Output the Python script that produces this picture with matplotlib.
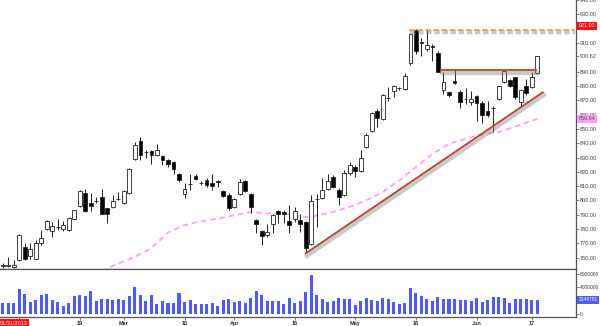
import matplotlib
matplotlib.use("Agg")
import matplotlib.pyplot as plt
import matplotlib.patheffects as pe
import numpy as np

plt.rcParams["font.family"] = ["Liberation Sans", "DejaVu Sans"]

# Daily OHLC (index 0 = 29 Jan 2013, last = 18 Jun 2013)
opens = [754, 754.5, 753.5, 758.5, 767.7, 761.5, 759.2, 770.1, 780, 778.9,
         781.3, 780, 779.3, 787.4, 796, 805.2, 797.9, 799.7, 802.5, 794.4,
         795.1, 800.9, 797.9, 805.2, 829.2, 841.2, 833.7, 834.8, 832.1, 831.2,
         828, 826.8, 818.7, 804.8, 811.5, 816.9, 812.2, 814.5, 812.2, 813.4,
         806.4, 803.6, 795.1, 804.8, 813.4, 804.4, 786.3, 778.9, 775.9, 783.3,
         792.7, 791.8, 785.8, 787, 786.7, 785.1, 769.4, 800.7, 801.4, 808.3,
         816.4, 807.6, 803.7, 819.2, 823.4, 820.4, 837.3, 848.2, 862.8, 857,
         871.5, 876.2, 878.4, 877.9, 895.7, 918.9, 910.4, 905.7, 907.6, 902.9,
         877.1, 875.5, 883.6, 875.5, 870.7, 868.6, 873.2, 867.9, 862.8, 864.7,
         870.9, 882.9, 884.1, 886, 869, 879.9, 879, 888.7]
highs = [756.5, 760.8, 758.5, 776.5, 770.5, 770.5, 772.4, 779.3, 786.3, 785.1,
         787.4, 785.6, 788.6, 793.6, 807.5, 808.3, 805.2, 802.5, 808.3, 795,
         803.6, 805.9, 807, 822.5, 840.7, 844.2, 835, 835.5, 839.6, 832,
         828.8, 827.5, 819.2, 812.3, 818.7, 818.2, 813.5, 815.5, 818.7, 814.1,
         807, 805, 801.5, 814.8, 814.5, 805.5, 786.8, 779.5, 783.5, 790.9,
         793.6, 793.2, 796.7, 795.6, 790.9, 786, 804.1, 804.4, 816, 818.2,
         817.5, 808.5, 821.1, 826.8, 824.5, 835, 846.8, 861.6, 864, 874.4,
         879.5, 880.8, 879.5, 888.7, 917.3, 920, 913.8, 919.6, 909.6, 904.5,
         889.4, 876.7, 891.7, 877.1, 878.3, 876.7, 874, 869.7, 869.7, 866.3,
         880.2, 890.6, 884.8, 886.5, 877.5, 884.8, 889.4, 901]
lows = [753, 753.5, 753, 758, 758.5, 759, 758.8, 768.9, 779.3, 774.2,
        779.3, 778.9, 778.5, 786.8, 795.5, 792, 792.7, 798, 790.5, 784.4,
        794.4, 800.2, 797.5, 804.8, 828.5, 828.5, 830, 825.2, 831.4, 824.5,
        823.4, 818.2, 813, 801.8, 807.1, 814.1, 811, 809.5, 807.1, 809.5,
        802.5, 793.7, 794.5, 804, 806, 791.6, 777, 768.9, 774.7, 777,
        784, 784, 777, 785.1, 778.2, 763.1, 768.9, 781.6, 800.7, 807.6,
        808.5, 796.7, 803, 817.5, 816.4, 819.9, 836.5, 847.7, 851.2, 856.3,
        869.7, 872, 877, 877.2, 894.5, 902.2, 901, 904.5, 897.5, 889.4,
        874.4, 872, 881.3, 864.6, 867.4, 867, 855.8, 854.4, 858.1, 847.7,
        870.2, 881.8, 879.5, 870.9, 865.1, 873.9, 878.5, 888.3]
closes = [755, 754.8, 755.2, 775.8, 759.2, 766.1, 770.1, 774, 785.6, 782.3,
          781.6, 782.8, 788.1, 793.2, 806.6, 792.7, 796, 799.5, 790.9, 790.4,
          799.7, 801.1, 806.4, 821.7, 838.9, 831.5, 833.6, 832.1, 835, 828,
          825.7, 821.7, 814.6, 807.8, 811.6, 815.3, 812, 810.6, 810.2, 813.2,
          803.2, 794.4, 800.9, 812.9, 806.7, 795.6, 783.3, 775.4, 777.7, 789.8,
          790.9, 790.4, 782.8, 792.7, 783.3, 766.6, 799.7, 800.9, 807.6, 813.4,
          809.5, 802.5, 819.2, 824.5, 820.6, 829.6, 845.9, 861.2, 857.7, 873.7,
          871.6, 879.9, 878.3, 887.1, 916.1, 904.5, 910.2, 908.7, 907.5, 889.9,
          882.9, 873.7, 882, 868.6, 870.6, 870.9, 867.9, 859.8, 860, 864.6,
          879.9, 890.1, 879.9, 872, 877.1, 875.1, 886.2, 900.62]
# volume in millions of shares
volumes = [1.73, 1.73, 1.63, 3.75, 3.01, 1.88, 2.12, 2.86, 2.96, 2.17,
           1.88, 1.19, 1.73, 2.72, 2.91, 2.77, 3.46, 2.02, 2.27, 2.22,
           2.07, 2.22, 2.17, 2.77, 4.00, 2.86, 2.02, 2.91, 1.58, 1.98,
           1.63, 1.68, 3.11, 1.83, 2.12, 1.48, 1.48, 1.48, 1.68, 1.19,
           2.17, 2.27, 1.83, 1.98, 1.73, 2.37, 3.46, 2.86, 2.02, 1.98,
           1.98, 1.58, 2.42, 1.73, 1.98, 3.36, 5.83, 2.86, 2.27, 1.78,
           2.02, 2.47, 2.27, 2.27, 1.43, 1.98, 2.47, 2.17, 1.98, 2.37,
           2.22, 1.88, 1.48, 1.63, 3.90, 3.16, 2.77, 2.27, 1.93, 2.52,
           2.27, 2.27, 2.27, 2.07, 2.07, 1.98, 2.47, 1.88, 2.07, 2.57,
           2.62, 2.37, 1.73, 2.27, 2.22, 2.32, 2.17, 2.14]

# 50-day moving average, read at a few points
ma_idx = [18, 19, 24, 27, 30, 33, 36, 39, 42, 45, 48, 51, 54, 56, 57, 60, 63,
          66, 69, 72, 75, 78, 81, 84, 87, 90, 93, 97]
ma_val = [750.5, 752.7, 760.7, 766.6, 777.7, 782.8, 785.4, 787.4, 789.7, 792.0,
          790.9, 790.9, 789.0, 788.1, 789.7, 792.0, 795.5, 800.2, 805.9, 814.1,
          823.3, 832.6, 839.6, 843.1, 846.1, 847.7, 851.6, 856.94]

# drawn trend lines
trend_idx = [55, 98]
trend_val = [763.1, 875.5]
neck_idx = [79.5, 96.7]
neck_val = [891.0, 891.0]
resist_idx = [73.8, 103.6]
resist_val = [919.3, 919.3]

price_ticks = [760, 770, 780, 790, 800, 810, 820, 830, 840, 850, 860, 870,
               880, 890, 900.62, 910, 920, 930, 940]
price_tick_labels = [f"{v:.2f}" if v != 920 else "" for v in price_ticks]
vol_ticks = [0, 2, 4, 6]
vol_tick_labels = ["0", "", "4000000", "6000000"]
date_ticks = [3, 14, 22, 33, 42, 53, 64, 75, 86, 96]
date_labels = ["", "19", "Mar", "18", "Apr", "16", "May", "16", "Jun", "17"]
cursor_idx = 2
cursor_date = "01/31/2013"
high_mark = 921.92
ma_last = 856.94
last_volume = 2144781

GREY = "#555555"


def right_box(ax, y, text, fc, tc, size=4):
    ax.annotate(text, xy=(1, y), xycoords=("axes fraction", "data"),
                xytext=(1.8, 0), textcoords="offset points", ha="left", va="center",
                fontsize=size, color=tc, annotation_clip=False,
                bbox=dict(boxstyle="square,pad=0.3", fc=fc, ec="none"))


fig = plt.figure(figsize=(6.0, 3.26), dpi=100)
ax = fig.add_axes([0, 1 - 268.5 / 326, 576 / 600, 268.5 / 326])
axv = fig.add_axes([0, 1 - 316.7 / 326, 576 / 600, (316.7 - 269) / 326])

x = np.arange(len(opens))
o = np.array(opens)
c = np.array(closes)
up = c >= o

# --- candles ---
ax.vlines(x, lows, highs, color="#222222", linewidth=0.7, zorder=2)
ax.bar(x, np.maximum(np.abs(c - o), 0.25), bottom=np.minimum(o, c), width=0.7,
       color=np.where(up, "white", "black"), edgecolor="#222222", linewidth=0.6, zorder=3)

# --- moving average ---
ax.plot(ma_idx, ma_val, color="#ff9cff", linewidth=1.3, dashes=(3, 2.2), zorder=1)

# --- trend lines with shadow ---
shadow = [pe.SimpleLineShadow(offset=(0.8, -1.8), shadow_color="#888888", alpha=0.45, linewidth=3.2),
          pe.Normal()]
ax.plot(trend_idx, trend_val, color="#b9472f", linewidth=1.3, path_effects=shadow, zorder=4)
ax.plot(neck_idx, neck_val, color="#b9472f", linewidth=1.3, path_effects=shadow, zorder=4)
ax.plot(resist_idx, resist_val, color="#f0a23a", linewidth=1.3, dashes=(3, 1.5),
        path_effects=shadow, zorder=4)

ax.set_xlim(-0.49, 104.05)
ax.set_ylim(752.5, 939.25)
ax.set_xticks([])
ax.yaxis.tick_right()
ax.set_yticks(price_ticks, price_tick_labels)
ax.tick_params(axis="y", length=2, width=0.5, pad=1, labelsize=4, color=GREY, labelcolor="#444444")
for s in ["top", "left"]:
    ax.spines[s].set_visible(False)
for s in ["right", "bottom"]:
    ax.spines[s].set_color(GREY)
    ax.spines[s].set_linewidth(0.9)

right_box(ax, high_mark, f"{high_mark:.2f}", "#ff1010", "white")
right_box(ax, ma_last, f"{ma_last:.2f}", "#ff9cff", "#555555")

# --- volume panel ---
axv.bar(x, volumes, width=0.55, color="#4a5cff", zorder=2)
axv.set_xlim(-0.49, 104.05)
axv.set_ylim(-0.357, 6.74)
axv.yaxis.tick_right()
axv.set_yticks(vol_ticks, vol_tick_labels)
axv.tick_params(axis="y", length=2, width=0.5, pad=1, labelsize=3.5, color=GREY, labelcolor="#444444")
axv.set_xticks(date_ticks, date_labels)
axv.tick_params(axis="x", length=2, width=0.5, pad=1, labelsize=4, color=GREY, labelcolor="#333333")
for lbl in axv.get_xticklabels():
    lbl.set_fontweight("bold")
axv.spines["left"].set_visible(False)
for s in ["right", "bottom", "top"]:
    axv.spines[s].set_color(GREY)
    axv.spines[s].set_linewidth(0.9)

right_box(axv, last_volume / 1e6, str(last_volume), "#4a5cff", "white", size=3.5)
axv.annotate(cursor_date, xy=(cursor_idx, 0), xycoords=("data", "axes fraction"),
             xytext=(0, -4.6), textcoords="offset points", ha="center", va="center",
             fontsize=4, color="white", annotation_clip=False,
             bbox=dict(boxstyle="square,pad=0.3", fc="#ff1010", ec="none"))

fig.savefig("out.png", dpi=100)
plt.close(fig)
